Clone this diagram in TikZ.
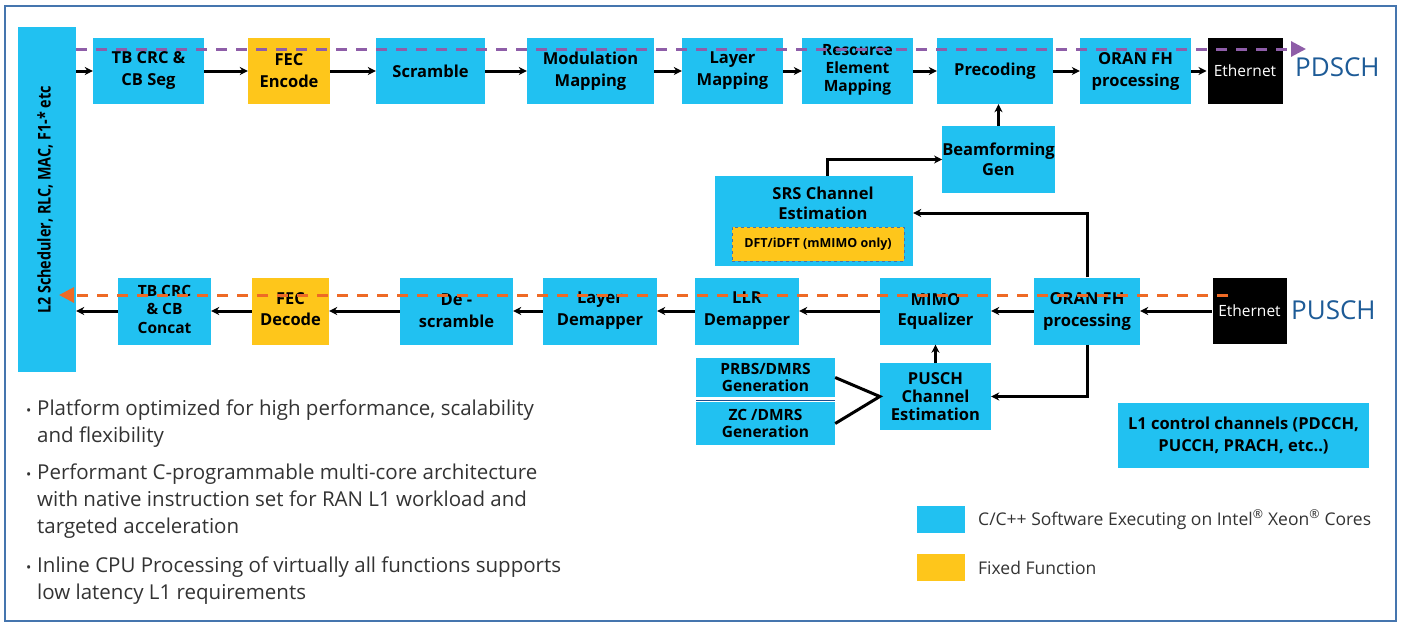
\documentclass[tikz,border=0pt]{standalone}
\usepackage{fontspec}
\setmainfont{Open Sans}
\usetikzlibrary{arrows.meta,calc}
\definecolor{swblue}{HTML}{21C1F1}
\definecolor{ffyellow}{HTML}{FEC61B}
\definecolor{framecol}{HTML}{4575AE}
\definecolor{dlcol}{HTML}{8E5DA8}
\definecolor{ulcol}{HTML}{EE6A25}
\definecolor{chname}{HTML}{1D5B97}
\definecolor{bodytxt}{HTML}{333333}
\definecolor{divcol}{HTML}{1F4E8C}

\begin{document}
\begin{tikzpicture}[x=1pt,y=-1pt,
  blk/.style={fill=swblue, draw=none, inner sep=0pt, align=center,
    text=black, font=\bfseries\fontsize{16.5}{22}\selectfont},
  ff/.style={blk, fill=ffyellow},
  lbl/.style={inner sep=0pt, align=center, text=black,
    font=\bfseries\fontsize{16.5}{21}\selectfont},
  eth/.style={fill=black, draw=white, line width=1pt, inner sep=0pt,
    text=white, font=\fontsize{15.5}{18}\selectfont},
  chan/.style={inner sep=0pt, anchor=west, text=chname,
    font=\fontsize{26}{30}\selectfont},
  conn/.style={line width=3pt, black},
  arr/.style={conn, -{Stealth[length=8pt,width=8pt]}},
  dlpath/.style={line width=3pt, dlcol, dash pattern=on 11pt off 9pt,
    -{Triangle[length=15pt,width=15pt]}},
  ulpath/.style={line width=3pt, ulcol, dash pattern=on 11pt off 9pt,
    -{Triangle[length=15pt,width=15pt]}},
  btxt/.style={inner sep=0pt, anchor=base west, text=bodytxt,
    font=\fontsize{20.5}{27}\selectfont},
  bdot/.style={inner sep=0pt, anchor=base west, text=bodytxt,
    font=\fontsize{14}{16}\selectfont},
  legtxt/.style={inner sep=0pt, anchor=base west, text=bodytxt,
    font=\fontsize{17.5}{20}\selectfont},
]
\useasboundingbox (0,0) rectangle (1401,624);
\fill[white] (0,0) rectangle (1401,624);
\draw[framecol, line width=1.5pt] (5,6) rectangle (1396,621);

% higher-layer stack
\node[blk, minimum width=58pt, minimum height=345pt] (l2) at (47,199.5) {};
\node[lbl, rotate=90, font=\bfseries\fontsize{17.5}{20}\selectfont] (l2txt) at (45,200)
  {\scalebox{0.82}[1]{L2 Scheduler, RLC, MAC, F1-* etc}};

% downlink chain
\node[blk, minimum width=111pt, minimum height=66pt] (tbseg) at (148.5,71) {TB CRC \&\\CB Seg};
\node[ff, minimum width=82pt, minimum height=66pt] (fecenc) at (289,71) {FEC\\Encode};
\node[blk, minimum width=109pt, minimum height=66pt] (scr) at (430.5,71) {Scramble};
\node[blk, minimum width=127pt, minimum height=66pt] (modmap) at (590.5,71) {Modulation\\Mapping};
\node[blk, minimum width=101pt, minimum height=66pt] (laymap) at (732.5,71) {Layer\\Mapping};
\node[blk, minimum width=111pt, minimum height=66pt] (remap) at (857.5,71) {};
\node[lbl, font=\bfseries\fontsize{15.5}{18}\selectfont] (remaptxt) at (857.5,70) {Resource\\Element\\Mapping};
\node[blk, minimum width=116pt, minimum height=66pt] (precod) at (995,71) {Precoding};
\node[blk, minimum width=111pt, minimum height=66pt] (orandl) at (1135.5,71) {ORAN FH\\processing};
\node[eth, minimum width=76pt, minimum height=67pt] (ethdl) at (1245,71) {Ethernet};
\node[chan] (pdsch) at (1295,67) {PDSCH};

% beamforming / SRS
\node[blk, minimum width=109pt, minimum height=67pt, font=\bfseries\fontsize{16.5}{20}\selectfont] (beam) at (998.5,159.5) {Beamforming\\Gen};
\node[blk, minimum width=198pt, minimum height=90pt] (srs) at (814,221) {};
\node[lbl, font=\bfseries\fontsize{16.5}{20}\selectfont] (srstxt) at (823,203) {SRS Channel\\Estimation};
\node[ff, draw=framecol, dashed, line width=1pt, minimum width=172pt, minimum height=34pt,
  font=\bfseries\fontsize{12.5}{15}\selectfont] (dft) at (818,244) {DFT/iDFT (mMIMO only)};

% uplink chain
\node[blk, minimum width=93pt, minimum height=67pt] (tbcat) at (164.5,311) {};
\node[lbl, font=\bfseries\fontsize{15.5}{18.5}\selectfont] (tbcattxt) at (164.5,309) {TB CRC\\\& CB\\Concat};
\node[ff, minimum width=77pt, minimum height=67pt] (fecdec) at (290.5,311) {};
\node[lbl] (fecdectxt) at (290.5,309) {FEC\\Decode};
\node[blk, minimum width=113pt, minimum height=67pt] (descr) at (456.5,311) {De -\\scramble};
\node[blk, minimum width=114pt, minimum height=67pt] (laydem) at (600,311) {Layer\\Demapper};
\node[blk, minimum width=104pt, minimum height=67pt] (llr) at (747,311) {LLR\\Demapper};
\node[blk, minimum width=111pt, minimum height=67pt, font=\bfseries\fontsize{16.5}{20}\selectfont] (mimo) at (935.5,311) {MIMO\\Equalizer};
\node[blk, minimum width=106pt, minimum height=67pt] (oranul) at (1087,311) {ORAN FH\\processing};
\node[eth, minimum width=75pt, minimum height=67pt] (ethul) at (1249.5,311) {Ethernet};
\node[chan] (pusch) at (1291,310) {PUSCH};

% reference signal generation and channel estimation
\node[blk, minimum width=139pt, minimum height=39pt, font=\bfseries\fontsize{15.5}{17}\selectfont] (prbs) at (765.5,377.5) {PRBS/DMRS\\Generation};
\node[blk, minimum width=139pt, minimum height=43pt, font=\bfseries\fontsize{15.5}{17}\selectfont] (zc) at (765.5,423.5) {ZC /DMRS\\Generation};
\draw[divcol, line width=1pt] ($(prbs.south west)!.8!(zc.north west)$) -- ($(prbs.south east)!.8!(zc.north east)$);
\node[blk, minimum width=111pt, minimum height=67pt, font=\bfseries\fontsize{16.5}{18}\selectfont] (puschest) at (935.5,396.5) {PUSCH\\Channel\\Estimation};

% control channels
\node[blk, minimum width=251pt, minimum height=65pt] (l1ctrl) at (1243.5,435.5) {L1 control channels (PDCCH,\\PUCCH, PRACH, etc..)};

% downlink connectors
\draw[arr] (tbseg.west -| l2.east) -- (tbseg.west);
\draw[arr] (tbseg) -- (fecenc);
\draw[arr] (fecenc) -- (scr);
\draw[arr] (scr) -- (modmap);
\draw[arr] (modmap) -- (laymap);
\draw[arr] (laymap) -- (remap);
\draw[arr] (remap) -- (precod);
\draw[arr] (precod) -- (orandl);
\draw[arr] (orandl) -- (ethdl);
\draw[arr] (beam.north) -- (beam.north |- precod.south);
\draw[arr] ([xshift=13pt]srs.north) |- (beam.west);

% uplink connectors
\draw[arr] (ethul) -- (oranul);
\draw[arr] (oranul) -- (mimo);
\draw[arr] (mimo) -- (llr);
\draw[arr] (llr) -- (laydem);
\draw[arr] (laydem) -- (descr);
\draw[arr] (descr) -- (fecdec);
\draw[arr] (fecdec) -- (tbcat);
\draw[arr] (tbcat.west) -- (tbcat.west -| l2.east);
\draw[arr] (oranul.north) |- ([yshift=8pt]srs.east);
\draw[arr] (oranul.south) |- (puschest.east);
\draw[arr] (puschest.north) -- (mimo.south);
\draw[conn, line join=miter] (prbs.east) -- (puschest.west) -- (zc.east);

% data paths
\coordinate (dlstart) at (l2.east |- 0,49);
\coordinate (dlend) at (1306,49);
\draw[dlpath] (dlstart) -- (dlend);
\coordinate (ulstart) at (1228,295);
\coordinate (ulend) at (59,295);
\draw[ulpath] (ulstart) -- (ulend);

% bullet list
\node[bdot] (d1) at (26,415) {•};
\node[btxt] (b1a) at (37,415) {Platform optimized for high performance, scalability};
\node[btxt] (b1b) at (37,442) {and flexibility};
\node[bdot] (d2) at (26,479) {•};
\node[btxt] (b2a) at (37,479) {Performant C-programmable multi-core architecture};
\node[btxt] (b2b) at (37,506) {with native instruction set for RAN L1 workload and};
\node[btxt] (b2c) at (37,533) {targeted acceleration};
\node[bdot] (d3) at (26,572) {•};
\node[btxt] (b3a) at (37,572) {Inline CPU Processing of virtually all functions supports};
\node[btxt] (b3b) at (37,599) {low latency L1 requirements};

% legend
\node[fill=swblue, minimum width=48pt, minimum height=27pt, inner sep=0pt] (legsw) at (941,519.5) {};
\node[fill=ffyellow, minimum width=48pt, minimum height=27pt, inner sep=0pt] (legff) at (941,567.5) {};
\node[legtxt] (legswtxt) at (978,525) {C/C++ Software Executing on Intel\textsuperscript{®} Xeon\textsuperscript{®} Cores};
\node[legtxt] (legfftxt) at (978,574) {Fixed Function};
\end{tikzpicture}
\end{document}
